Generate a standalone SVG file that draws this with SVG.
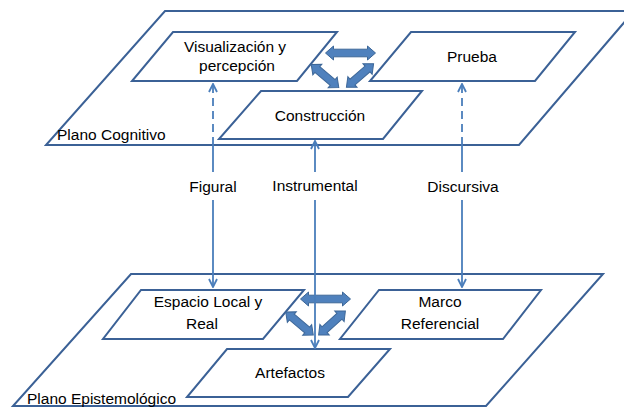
<svg xmlns="http://www.w3.org/2000/svg" width="624" height="409" viewBox="0 0 624 409">
<style>
.plane{fill:#ffffff;stroke:#3b6196;stroke-width:2}
.box{fill:#ffffff;stroke:#3b6196;stroke-width:2}
.t{font-family:"Liberation Sans",Arial,sans-serif;font-size:15.5px;fill:#000;text-anchor:middle}
.tl{font-family:"Liberation Sans",Arial,sans-serif;font-size:15.5px;fill:#000}
.blk{fill:#4f81bd;stroke:#3d6798;stroke-width:1}
.ln{fill:none;stroke:#4a7ebb;stroke-width:1.8}
.dash{stroke-dasharray:8 5}
</style>
<defs>
<marker id="ah" viewBox="0 0 10 10" refX="9" refY="5" markerWidth="10" markerHeight="10" markerUnits="userSpaceOnUse" orient="auto">
<path d="M1,1 L9,5 L1,9" fill="none" stroke="#4a7ebb" stroke-width="1.8"/>
</marker>
<path id="dl" d="M-25,0 L-17,-7 L-17,-3.8 L17,-3.8 L17,-7 L25,0 L17,7 L17,3.8 L-17,3.8 L-17,7 Z"/>
<path id="ds" d="M-18,0 L-10,-7 L-10,-3.8 L10,-3.8 L10,-7 L18,0 L10,7 L10,3.8 L-10,3.8 L-10,7 Z"/>
</defs>

<g id="plano-cognitivo">
<polygon class="plane" points="165,11 634,11 519,145 46,145"/>
<text class="tl" x="57" y="140">Plano Cognitivo</text>
</g>

<g id="visualizacion">
<polygon class="box" points="173,32 337,32 297,81 132,81"/>
<text class="t" x="235" y="52">Visualización y</text>
<text class="t" x="237" y="71">percepción</text>
</g>

<g id="prueba">
<polygon class="box" points="411,32 575,32 535,81 370,81"/>
<text class="t" x="472" y="62">Prueba</text>
</g>

<g id="construccion">
<polygon class="box" points="261,91 422,91 383,139 219,139"/>
<text class="t" x="320" y="121">Construcción</text>
</g>

<g id="plano-epistemologico">
<polygon class="plane" points="131,274 603,274 486,406 13,406"/>
<text class="tl" x="27" y="404">Plano Epistemológico</text>
</g>

<g id="espacio">
<polygon class="box" points="141,290 304,290 263,339 103,339"/>
<text class="t" x="208" y="307">Espacio Local y</text>
<text class="t" x="202" y="329">Real</text>
</g>

<g id="marco">
<polygon class="box" points="379,290 541,290 503,339 340,339"/>
<text class="t" x="440" y="307">Marco</text>
<text class="t" x="440" y="329">Referencial</text>
</g>

<g id="artefactos">
<polygon class="box" points="227,349 390,349 348,397 187,397"/>
<text class="t" x="290" y="378">Artefactos</text>
</g>

<g id="connectors">
<use href="#dl" class="blk" transform="translate(350.5,53)"/>
<use href="#ds" class="blk" transform="translate(325,76) rotate(40)"/>
<use href="#ds" class="blk" transform="translate(360,75.5) rotate(-41)"/>
<use href="#dl" class="blk" transform="translate(325.5,299)"/>
<use href="#ds" class="blk" transform="translate(299.5,323.5) rotate(40)"/>
<use href="#ds" class="blk" transform="translate(332,323) rotate(-42)"/>

<path class="ln dash" d="M213,145 L213,84" marker-end="url(#ah)"/>
<path class="ln" d="M213,145 L213,172"/>
<path class="ln" d="M213,200 L213,287" marker-end="url(#ah)"/>

<path class="ln" d="M315,172 L315,141" marker-end="url(#ah)"/>
<path class="ln" d="M315,200 L315,348" marker-end="url(#ah)"/>

<path class="ln dash" d="M462,145 L462,84" marker-end="url(#ah)"/>
<path class="ln" d="M462,145 L462,172"/>
<path class="ln" d="M462,200 L462,287" marker-end="url(#ah)"/>

<text class="t" x="213" y="192">Figural</text>
<text class="t" x="315" y="191">Instrumental</text>
<text class="t" x="463" y="192">Discursiva</text>
</g>
</svg>
